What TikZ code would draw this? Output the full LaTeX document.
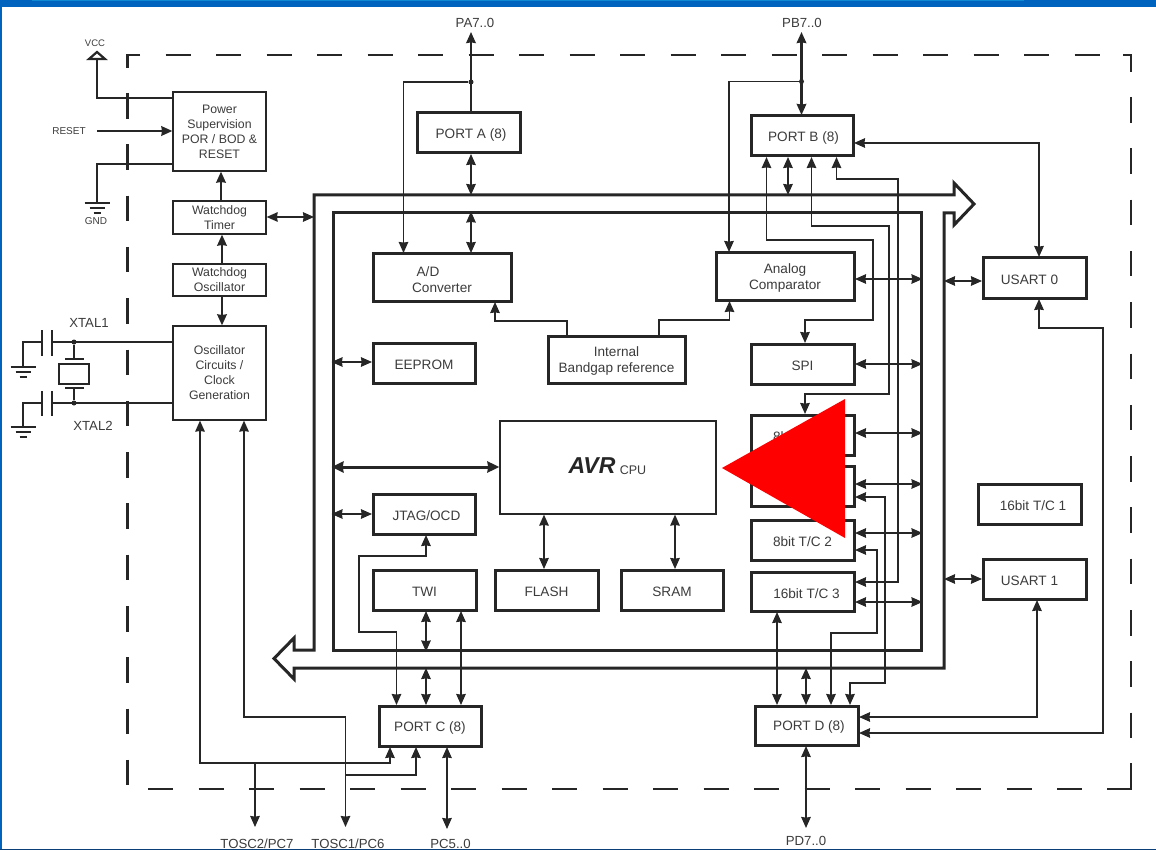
\documentclass[tikz,border=0pt]{standalone}
\usepackage{fontspec}
\setmainfont{Liberation Sans}
\usetikzlibrary{arrows.meta}
\definecolor{ink}{HTML}{262626}
\definecolor{txt}{HTML}{3C3C3C}
\definecolor{band}{HTML}{0063BE}
\definecolor{bandhi}{HTML}{0F8AD2}
\definecolor{navy}{HTML}{0B3F78}
\tikzset{
  basebox/.style={draw=ink,inner sep=0pt,anchor=center},
  pbox/.style={basebox,line width=3pt,outer sep=1pt},
  pboxtext/.style={text=txt,inner sep=0pt,align=center,yshift=-1.7pt,font=\fontsize{13.6}{16}\selectfont},
  tbox/.style={basebox,line width=2.2pt,outer sep=0.6pt},
  tboxtext/.style={text=txt,inner sep=0pt,align=center,font=\fontsize{12.3}{15}\selectfont},
  cbox/.style={basebox,line width=2pt,outer sep=0.6pt},
  cboxtext/.style={inner sep=0pt},
  wire/.style={draw=ink,line width=1.6pt,line join=miter,>={Stealth[length=11pt,width=9.5pt,inset=0.6pt]}},
  heavy/.style={wire,line width=2.2pt},
  busline/.style={draw=ink,line width=3pt,line join=miter},
  dashside/.style={draw=ink,line width=2.7pt},
  lab/.style={text=txt,inner sep=0pt,font=\fontsize{13.2}{15}\selectfont},
  smalllab/.style={text=txt,inner sep=0pt,font=\fontsize{10}{12}\selectfont},
  dot/.style={circle,fill=ink,minimum size=5pt,inner sep=0pt}
}
\newcommand{\bx}[7][pbox]{\node[#1,minimum width={(#5-#3)*1pt},minimum height={(#6-#4)*1pt},label={[name=#2-text,#1text]center:{#7}}] (#2) at ({(#3+#5)/2},{(#4+#6)/2}) {};}
\newcommand{\earth}[3]{%
  \draw[wire] ({#1-12.5},#2)--({#1+12.5},#2);
  \draw[wire] ({#1-7.5},{#2+5})--({#1+7.5},{#2+5});
  \draw[wire] ({#1-3.5},{#2+10})--({#1+3.5},{#2+10});}
\begin{document}
\begin{tikzpicture}[x=1pt,y=-1pt]
\useasboundingbox (0,0) rectangle (1156,850);
\fill[white] (0,0) rectangle (1156,850);
% window frame
\fill[band] (0,0) rectangle (1156,7);
\fill[bandhi] (32,0) rectangle (1024,1);
\fill[band] (0,0) rectangle (2,850);
% dashed outline
\draw[dashside,dash pattern=on 25.3pt off 25.2pt] (165.5,55) -- (1100,55);
\draw[dashside,dash pattern=on 25.3pt off 25.2pt] (148,789) -- (1100,789);
\draw[dashside,dash pattern=on 25.6pt off 25.7pt] (127.5,93) -- (127.5,785);
\draw[dashside,dash pattern=on 25.6pt off 25.7pt] (1131,97) -- (1131,750);
\draw[dashside,line join=miter] (140,55) -- (127.5,55) -- (127.5,68);
\draw[dashside,line join=miter] (1123,55) -- (1131,55) -- (1131,72);
\draw[dashside,line join=miter] (1107,789) -- (1131,789) -- (1131,763);
% bus
\draw[busline] (314,195) -- (954,195) -- (954,183) -- (974,204) -- (954,225) -- (954,213) -- (944,213)
  -- (944,668) -- (294,668) -- (294,679) -- (274,658.5) -- (294,638) -- (294,650) -- (314,650) -- cycle;
\node[draw=ink,line width=3pt,inner sep=0pt,minimum width=588pt,minimum height=437pt] (inner) at (627,431.5) {};
\coordinate (busTop) at (0,195);
\coordinate (busBot) at (0,668);
\coordinate (busLeft) at (314,0);
\coordinate (busRight) at (944,0);
% boxes
\bx[tbox]{power}{173}{92}{266}{171}{Power\\Supervision\\POR / BOD \&\\RESET}
\bx[tbox]{wdt}{173}{201}{266}{234}{Watchdog\\Timer}
\bx[tbox]{wdo}{173}{264}{266}{296}{Watchdog\\Oscillator}
\bx[tbox]{osc}{173}{326}{266}{420}{Oscillator\\Circuits /\\Clock\\Generation}
\bx{porta}{417}{113}{520}{153}{\hspace*{5pt}PORT A (8)}
\bx{portb}{751}{116}{853}{156}{\hspace*{3pt}PORT B (8)}
\bx{adc}{373}{254}{511}{301}{A/D\hspace*{28pt}\\Converter}
\bx{analog}{716}{253}{854}{300}{Analog\\Comparator}
\bx{eeprom}{373}{343}{475}{383}{EEPROM}
\bx{bandgap}{548}{336}{685}{383}{Internal\\Bandgap reference}
\bx{spi}{751}{344}{854}{384}{SPI}
\bx[cbox]{cpu}{500}{421}{716}{514}{}
\bx{tc0}{751}{415}{854}{455}{8bit T/C 0}
\bx{tcx}{751}{466}{854}{506}{}
\bx{tc2}{751}{520}{854}{560}{8bit T/C 2}
\bx{tc3}{751}{572}{854}{611}{\hspace*{8pt}16bit T/C 3}
\bx{jtag}{373}{494}{475}{534}{\hspace*{5pt}JTAG/OCD}
\bx{twi}{373}{570}{476}{610}{TWI}
\bx{flash}{495}{570}{598}{610}{FLASH}
\bx{sram}{621}{570}{723}{610}{SRAM}
\bx{portc}{379}{706}{481}{746}{PORT C (8)}
\bx{portd}{755}{706}{858}{745}{\hspace*{5pt}PORT D (8)}
\bx{usart0}{983}{258}{1086}{298}{USART 0\hspace*{10pt}}
\bx{tc1}{978}{484}{1081}{524}{\hspace*{7pt}16bit T/C 1}
\bx{usart1}{983}{559}{1086}{599}{USART 1\hspace*{10pt}}
% AVR logo
\node[inner sep=0pt,text=ink,font=\fontsize{23}{24}\bfseries\itshape\selectfont] (avr) at (592,466) {AVR};
\node[inner sep=0pt,text=txt,font=\fontsize{12.5}{14}\selectfont] (cpulab) at (633,470) {CPU};
% power side
\node[smalllab,font=\fontsize{9.5}{11}\selectfont] (vcc) at (95,43.5) {VCC};
\coordinate (vcctip) at (97,52);
\draw[heavy,line join=miter] (89,59) -- (vcctip) -- (105,59) -- cycle;
\draw[heavy] (97,59) -- (97,98) -- (power.west |- 0,98);
\node[smalllab] (reset) at (69,131) {RESET};
\coordinate (resetin) at (97,131);
\draw[heavy,->] (resetin) -- (power.west |- resetin);
\coordinate (gndtop) at (97,203);
\draw[heavy] (power.west |- 0,164) -- (97,164) -- (gndtop);
\earth{97}{203}{}
\node[smalllab] (gnd) at (96,221) {GND};
\draw[heavy,->] (221,0 |- wdt.north) -- (221,0 |- power.south);
\draw[heavy,->] (222,0 |- wdo.north) -- (222,0 |- wdt.south);
\draw[heavy,->] (222,0 |- wdo.south) -- (222,0 |- osc.north);
\draw[wire,<->] (wdt.east |- 0,217) -- (busLeft |- 0,217);
% crystal
\node[dot] (x1dot) at (74,342) {};
\node[dot] (x2dot) at (74,403) {};
\node[draw=ink,line width=1.6pt,minimum width=30pt,minimum height=20pt,inner sep=0pt] (xtal) at (74,374) {};
\draw[heavy] (osc.west |- x1dot) -- (52,342);
\draw[heavy] (osc.west |- x2dot) -- (52,403);
\draw[heavy] (52,330) -- (52,356);
\draw[heavy] (42,330) -- (42,356);
\draw[heavy] (52,391) -- (52,416);
\draw[heavy] (42,391) -- (42,416);
\draw[heavy] (42,342) -- (23,342) -- (23,367);
\draw[heavy] (42,403) -- (23,403) -- (23,427);
\earth{23}{367}{}
\earth{23}{427}{}
\draw[heavy] (x1dot) -- (74,359);
\draw[heavy] (x2dot) -- (74,388);
\draw[line width=2.6pt,draw=ink] (65,359) -- (84,359);
\draw[line width=2.6pt,draw=ink] (65,388) -- (84,388);
\node[lab] (xtalone) at (89,322.5) {XTAL1};
\node[lab] (xtaltwo) at (93,425.5) {XTAL2};
% lower-left
\coordinate (tosctwo) at (255,827);
\coordinate (toscone) at (345.5,827);
\node[lab] (ltwo) at (257,843.5) {TOSC2/PC7};
\node[lab] (lone) at (348,843.5) {TOSC1/PC6};
\node[lab] (lpc) at (450.5,843.5) {PC5..0};
\coordinate (pcout) at (447,829);
\draw[wire,<->] (200,0 |- osc.south) -- (200,763) -- (390,763) -- (390,0 |- portc.south);
\draw[wire,->] (255,763) -- (tosctwo);
\draw[wire,<->] (244,0 |- osc.south) -- (244,717) -- (345.5,717) -- (toscone);
\draw[wire,->] (345.5,775) -- (416,775) -- (416,0 |- portc.south);
\draw[wire,<->] (447,0 |- portc.south) -- (pcout);
\draw[wire,<->] (426,0 |- jtag.south) -- (426,556) -- (359,556) -- (359,632) -- (396.5,632) -- (396.5,0 |- portc.north);
\draw[wire,<->] (426,0 |- twi.south) -- (426,0 |- inner.south);
\draw[wire,<->] (426,0 |- busBot) -- (426,0 |- portc.north);
\draw[wire,<->] (461,0 |- twi.south) -- (461,0 |- portc.north);
\draw[wire,<->] (inner.west |- 0,514) -- (jtag.west |- 0,514);
\draw[wire,<->] (inner.west |- 0,362) -- (eeprom.west |- 0,362);
\draw[line width=3pt,draw=ink,>={Stealth[length=12pt,width=11pt,inset=0.8pt]},<->] (inner.west |- 0,467) -- (cpu.west |- 0,467);
\draw[wire,<->] (544,0 |- cpu.south) -- (544,0 |- flash.north);
\draw[wire,<->] (675,0 |- cpu.south) -- (675,0 |- sram.north);
% ports A / B top
\node[lab] (pa) at (475,22.5) {PA7..0};
\node[lab] (pb) at (802,22.5) {PB7..0};
\node[dot] (padot) at (471,82) {};
\node[dot] (pbdot) at (801.5,81.5) {};
\coordinate (patop) at (471,32);
\coordinate (pbtop) at (801.5,32);
\draw[heavy,->] (471,0 |- porta.north) -- (patop);
\draw[heavy,<->] (pbtop) -- (801.5,0 |- portb.north);
\draw[wire,->] (padot) -- (403.5,82) -- (403.5,0 |- adc.north);
\draw[wire,->] (pbdot) -- (729,81.5) -- (729,0 |- analog.north);
\draw[wire,<->] (471,0 |- porta.south) -- (471,0 |- busTop);
\draw[wire,<->] (471,0 |- inner.north) -- (471,0 |- adc.north);
% bandgap
\draw[wire,->] (567,0 |- bandgap.north) -- (567,321) -- (495,321) -- (495,0 |- adc.south);
\draw[wire,->] (659,0 |- bandgap.north) -- (659,320) -- (729.5,320) -- (729.5,0 |- analog.south);
% port B bottom
\draw[wire,<->] (766.5,0 |- portb.south) -- (766.5,240) -- (873,240) -- (873,320) -- (805,320) -- (805,0 |- spi.north);
\draw[wire,<->] (788,0 |- portb.south) -- (788,0 |- busTop);
\draw[wire,<->] (811.5,0 |- portb.south) -- (811.5,226) -- (889,226) -- (889,394) -- (805,394) -- (805,0 |- tc0.north);
\draw[wire,<->] (836.5,0 |- portb.south) -- (836.5,179) -- (898,179) -- (898,582) -- (tc3.east |- 0,582);
\draw[wire,<->] (portb.east |- 0,143) -- (1039,143) -- (1039,0 |- usart0.north);
% peripherals to data bus
\draw[wire,<->] (analog.east |- 0,279) -- (inner.east |- 0,279);
\draw[wire,<->] (spi.east |- 0,364) -- (inner.east |- 0,364);
\draw[wire,<->] (tc0.east |- 0,433) -- (inner.east |- 0,433);
\draw[wire,<->] (tcx.east |- 0,484) -- (inner.east |- 0,484);
\draw[wire,<->] (tc2.east |- 0,533) -- (inner.east |- 0,533);
\draw[wire,<->] (tc3.east |- 0,602) -- (inner.east |- 0,602);
% port D connections
\draw[wire,<->] (tcx.east |- 0,497) -- (885,497) -- (885,683) -- (850,683) -- (850,0 |- portd.north);
\draw[wire,<->] (tc2.east |- 0,550) -- (877,550) -- (877,633) -- (831,633) -- (831,0 |- portd.north);
\draw[wire,<->] (777,0 |- tc3.south) -- (777,0 |- portd.north);
\draw[wire,<->] (806,0 |- busBot) -- (806,0 |- portd.north);
\draw[wire,<->] (busRight |- 0,281) -- (usart0.west |- 0,281);
\draw[wire,<->] (busRight |- 0,579) -- (usart1.west |- 0,579);
\draw[wire,<->] (portd.east |- 0,717) -- (1037,717) -- (1037,0 |- usart1.south);
\draw[wire,<->] (portd.east |- 0,733) -- (1103,733) -- (1103,328) -- (1039,328) -- (1039,0 |- usart0.south);
\node[lab] (pd) at (806,841) {PD7..0};
\coordinate (pdout) at (806,828);
\draw[wire,<->] (806,0 |- portd.south) -- (pdout);
% overlay
\fill[red] (722,468) -- (845,399) -- (845,538) -- cycle;
\fill[navy] (0,849) rectangle (1156,850);
\end{tikzpicture}
\end{document}
